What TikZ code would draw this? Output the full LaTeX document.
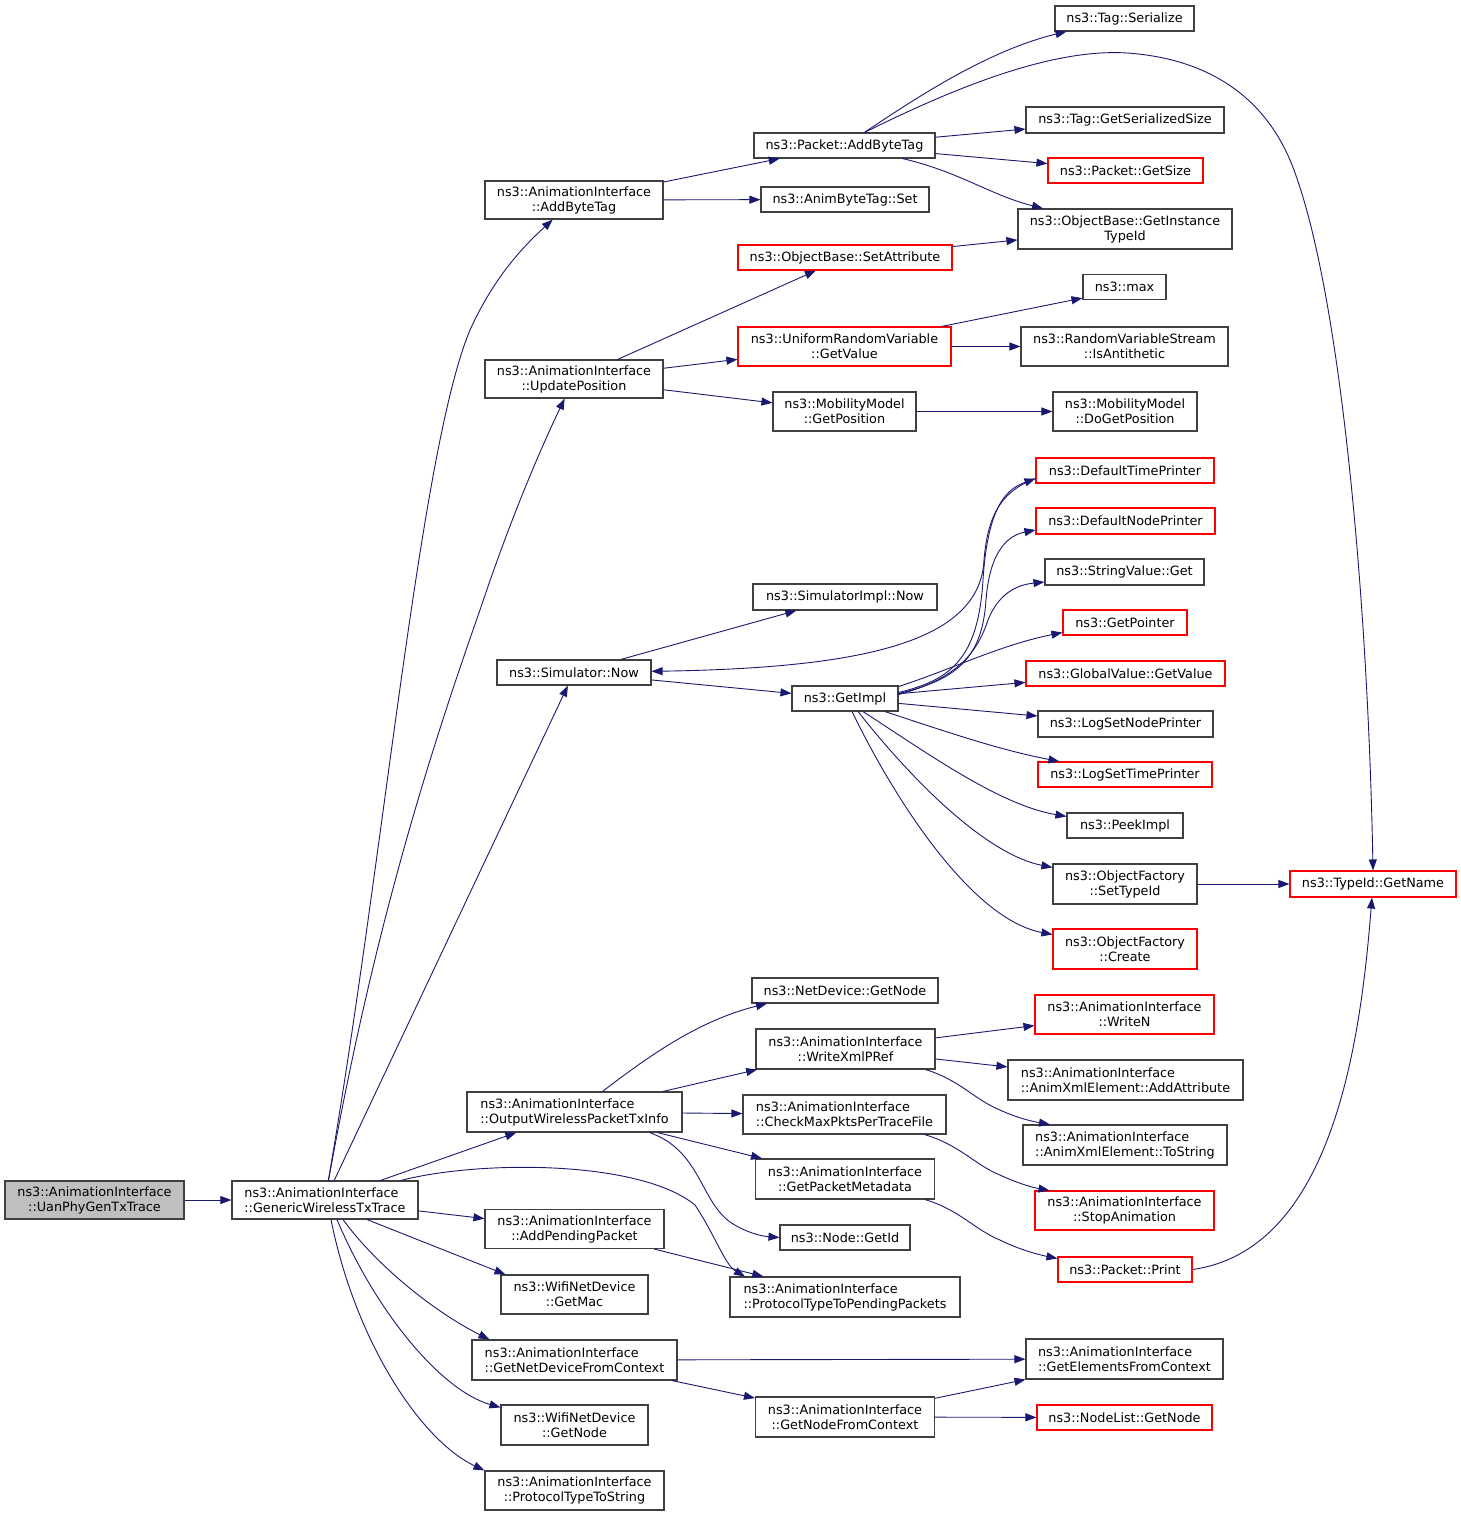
\documentclass[tikz,border=0pt]{standalone}
\usepackage{fontspec}
\setmainfont{DejaVu Sans}
\usetikzlibrary{arrows.meta}
\definecolor{edgec}{HTML}{191970}
\definecolor{bordc}{HTML}{404040}
\definecolor{rootc}{HTML}{BFBFBF}
\begin{document}
\begin{tikzpicture}[x=1pt,y=-1pt,
  box/.style={draw=bordc, line width=1.1pt, rectangle, inner sep=0pt, align=center, font=\fontsize{12.8}{15}\selectfont},
  rbox/.style={box, draw=red},
  e/.style={draw=edgec, line width=0.9pt, -{Triangle[length=11pt,width=8pt]}}]
\useasboundingbox (0,0) rectangle (1461,1516);
% column 1-2
\node[box,fill=rootc,minimum width=179pt,minimum height=38pt] (uan) at (94.5,1200) {ns3::AnimationInterface\\::UanPhyGenTxTrace};
\node[box,align=left,minimum width=186pt,minimum height=38pt] (gen) at (325,1200) {ns3::AnimationInterface\\::GenericWirelessTxTrace};
\node[box,minimum width=178pt,minimum height=38pt] (aibt) at (574,200) {ns3::AnimationInterface\\::AddByteTag};
\node[box,minimum width=178pt,minimum height=38pt] (upd) at (574,379) {ns3::AnimationInterface\\::UpdatePosition};
\node[box,minimum width=154pt,minimum height=25pt] (snow) at (574,672.5) {ns3::Simulator::Now};
\node[box,align=left,minimum width=215pt,minimum height=40pt] (outw) at (574.5,1112) {ns3::AnimationInterface\\::OutputWirelessPacketTxInfo};
\node[box,minimum width=179pt,minimum height=39pt] (addp) at (574.5,1229) {ns3::AnimationInterface\\::AddPendingPacket};
\node[box,minimum width=147pt,minimum height=39pt] (gmac) at (574.5,1294.5) {ns3::WifiNetDevice\\::GetMac};
\node[box,align=left,minimum width=205pt,minimum height=40pt] (gndc) at (574.5,1360) {ns3::AnimationInterface\\::GetNetDeviceFromContext};
\node[box,minimum width=147pt,minimum height=40pt] (wgn) at (574.5,1425) {ns3::WifiNetDevice\\::GetNode};
\node[box,minimum width=179pt,minimum height=39pt] (ptts) at (574.5,1490.5) {ns3::AnimationInterface\\::ProtocolTypeToString};
% column 3
\node[box,minimum width=181pt,minimum height=25pt] (pabt) at (844.5,145.5) {ns3::Packet::AddByteTag};
\node[box,minimum width=168pt,minimum height=25pt] (abts) at (845,199.5) {ns3::AnimByteTag::Set};
\node[rbox,minimum width=214pt,minimum height=25pt] (seta) at (845,257.5) {ns3::ObjectBase::SetAttribute};
\node[rbox,minimum width=213pt,minimum height=39pt] (urv) at (844.5,346.5) {ns3::UniformRandomVariable\\::GetValue};
\node[box,minimum width=143pt,minimum height=39pt] (gpos) at (844.5,411.5) {ns3::MobilityModel\\::GetPosition};
\node[box,minimum width=184pt,minimum height=26pt] (simn) at (845,597) {ns3::SimulatorImpl::Now};
\node[box,minimum width=106pt,minimum height=25pt] (gimp) at (845,698.5) {ns3::GetImpl};
\node[box,minimum width=186pt,minimum height=25pt] (ndgn) at (845,990.5) {ns3::NetDevice::GetNode};
\node[box,minimum width=179pt,minimum height=40pt] (wxml) at (845.5,1049) {ns3::AnimationInterface\\::WriteXmlPRef};
\node[box,align=left,minimum width=203pt,minimum height=39pt] (cmax) at (844.5,1114.5) {ns3::AnimationInterface\\::CheckMaxPktsPerTraceFile};
\node[box,minimum width=179pt,minimum height=40pt] (gpm) at (845,1179) {ns3::AnimationInterface\\::GetPacketMetadata};
\node[box,minimum width=130pt,minimum height=25pt] (ngid) at (845,1237.5) {ns3::Node::GetId};
\node[box,align=left,minimum width=230pt,minimum height=40pt] (ptpp) at (845,1297) {ns3::AnimationInterface\\::ProtocolTypeToPendingPackets};
\node[box,minimum width=179pt,minimum height=40pt] (gnfc) at (845,1417) {ns3::AnimationInterface\\::GetNodeFromContext};
% column 4
\node[box,minimum width=139pt,minimum height=25pt] (tser) at (1124.5,18.5) {ns3::Tag::Serialize};
\node[box,minimum width=198pt,minimum height=26pt] (tgss) at (1125,120) {ns3::Tag::GetSerializedSize};
\node[rbox,minimum width=155pt,minimum height=25pt] (pgs) at (1125.5,170.5) {ns3::Packet::GetSize};
\node[box,minimum width=214pt,minimum height=40pt] (gitid) at (1125,229) {ns3::ObjectBase::GetInstance\\TypeId};
\node[box,minimum width=83pt,minimum height=25pt] (nmax) at (1124.5,287) {ns3::max};
\node[box,minimum width=207pt,minimum height=39pt] (rvsa) at (1124.5,346.5) {ns3::RandomVariableStream\\::IsAntithetic};
\node[box,minimum width=144pt,minimum height=39pt] (dgpos) at (1125,411.5) {ns3::MobilityModel\\::DoGetPosition};
\node[rbox,minimum width=178pt,minimum height=25pt] (dtp) at (1125,470.5) {ns3::DefaultTimePrinter};
\node[rbox,minimum width=179pt,minimum height=26pt] (dnp) at (1125.5,521) {ns3::DefaultNodePrinter};
\node[box,minimum width=159pt,minimum height=26pt] (svg) at (1124.5,572) {ns3::StringValue::Get};
\node[rbox,minimum width=124pt,minimum height=25pt] (gptr) at (1125,622.5) {ns3::GetPointer};
\node[rbox,minimum width=199pt,minimum height=25pt] (gvgv) at (1125.5,673.5) {ns3::GlobalValue::GetValue};
\node[box,minimum width=175pt,minimum height=26pt] (lsnp) at (1125.5,724) {ns3::LogSetNodePrinter};
\node[rbox,minimum width=174pt,minimum height=25pt] (lstp) at (1125,774.5) {ns3::LogSetTimePrinter};
\node[box,minimum width=116pt,minimum height=25pt] (peek) at (1125,825.5) {ns3::PeekImpl};
\node[box,minimum width=144pt,minimum height=40pt] (oft) at (1125,884) {ns3::ObjectFactory\\::SetTypeId};
\node[rbox,minimum width=144pt,minimum height=40pt] (ofc) at (1125,949) {ns3::ObjectFactory\\::Create};
\node[rbox,minimum width=179pt,minimum height=39pt] (wrn) at (1124.5,1014.5) {ns3::AnimationInterface\\::WriteN};
\node[box,align=left,minimum width=235pt,minimum height=40pt] (addat) at (1125.5,1080) {ns3::AnimationInterface\\::AnimXmlElement::AddAttribute};
\node[box,align=left,minimum width=204pt,minimum height=40pt] (tostr) at (1125,1145) {ns3::AnimationInterface\\::AnimXmlElement::ToString};
\node[rbox,minimum width=179pt,minimum height=39pt] (stopa) at (1124.5,1210.5) {ns3::AnimationInterface\\::StopAnimation};
\node[rbox,minimum width=134pt,minimum height=25pt] (pprt) at (1125,1269.5) {ns3::Packet::Print};
\node[box,align=left,minimum width=197pt,minimum height=40pt] (gefc) at (1124.5,1359) {ns3::AnimationInterface\\::GetElementsFromContext};
\node[rbox,minimum width=175pt,minimum height=25pt] (nlgn) at (1124.5,1417.5) {ns3::NodeList::GetNode};
% column 5
\node[rbox,minimum width=166pt,minimum height=26pt] (tgn) at (1373,884) {ns3::TypeId::GetName};

% edges from root / GenericWirelessTxTrace
\draw[e] (uan) -- (gen);
\draw[e] (gen) .. controls (385,850) and (420,450) .. (470,330) .. controls (495,275) and (525,245) .. (aibt);
\draw[e] (gen) .. controls (370,950) and (420,780) .. (480,610) .. controls (510,520) and (540,450) .. (upd);
\draw[e] (gen) -- (snow);
\draw[e] (gen) -- (outw);
\draw[e] (gen) .. controls (480,1160) and (640,1160) .. (695,1205) .. controls (715,1235) and (725,1265) .. ([xshift=-100pt]ptpp.north);
\draw[e] (gen) -- (addp);
\draw[e] ([xshift=42pt]gen.south) -- ([xshift=5pt]gmac.north west);
\draw[e] ([xshift=18pt]gen.south) .. controls (380,1270) and (440,1315) .. ([xshift=18pt]gndc.north west);
\draw[e] ([xshift=12pt]gen.south) .. controls (375,1310) and (440,1390) .. ([yshift=-3pt]wgn.north west);
\draw[e] ([xshift=6pt]gen.south) .. controls (355,1340) and (420,1440) .. (ptts.north west);
% AddByteTag / UpdatePosition / Simulator::Now
\draw[e] (aibt) -- (pabt);
\draw[e] (aibt) -- (abts);
\draw[e] (upd) -- (seta);
\draw[e] (upd) -- (urv);
\draw[e] (upd) -- (gpos);
\draw[e] (snow) -- (simn);
\draw[e] (snow) -- (gimp);
\draw[e] ([yshift=-8pt]dtp.west) .. controls (1005,490) and (988,510) .. (984,560) .. controls (980,640) and (870,668) .. (snow);
% Packet::AddByteTag
\draw[e] ([xshift=20pt]pabt.north) .. controls (920,95) and (990,50) .. ([xshift=-58pt]tser.south);
\draw[e] ([xshift=20pt]pabt.north) .. controls (950,90) and (1050,48) .. (1127,53) .. controls (1200,58) and (1260,90) .. (1290,160) .. controls (1340,280) and (1368,600) .. (tgn.north);
\draw[e] (pabt) -- (tgss);
\draw[e] (pabt) -- (pgs);
\draw[e] ([xshift=58pt]pabt.south) .. controls (960,172) and (990,195) .. ([xshift=-82pt]gitid.north);
\draw[e] (seta) -- (gitid);
\draw[e] ([xshift=97pt]urv.north) -- ([yshift=2pt]nmax.south west);
\draw[e] (urv) -- (rvsa);
\draw[e] (gpos) -- (dgpos);
% GetImpl
\draw[e] ([yshift=6pt]gimp.east) .. controls (950,680) and (978,660) .. (983,580) .. controls (988,500) and (1010,488) .. ([yshift=-8pt]dtp.west);
\draw[e] ([yshift=5pt]gimp.east) .. controls (955,680) and (982,660) .. (986,600) .. controls (990,548) and (1010,535) .. ([yshift=-9pt]dnp.west);
\draw[e] ([yshift=4pt]gimp.east) .. controls (960,678) and (978,650) .. (988,620) .. controls (998,595) and (1015,585) .. ([yshift=-10pt]svg.west);
\draw[e] ([yshift=12pt]gimp.east) .. controls (950,670) and (1000,645) .. ([yshift=-10pt]gptr.west);
\draw[e] (gimp) -- (gvgv);
\draw[e] (gimp) -- (lsnp);
\draw[e] ([xshift=40pt]gimp.south) .. controls (950,733) and (1000,750) .. ([xshift=22pt]lstp.north west);
\draw[e] ([xshift=18pt]gimp.south) .. controls (930,755) and (1000,805) .. ([yshift=-4pt]peek.north west);
\draw[e] ([xshift=13pt]gimp.south) .. controls (920,790) and (990,855) .. ([yshift=-4pt]oft.north west);
\draw[e] ([xshift=7pt]gimp.south) .. controls (900,810) and (975,920) .. ([yshift=-6pt]ofc.north west);
\draw[e] (oft) -- (tgn);
\draw[e] (pprt.east) .. controls (1330,1250) and (1360,1050) .. (tgn);
% OutputWirelessPacketTxInfo
\draw[e] ([xshift=28pt]outw.north) .. controls (650,1055) and (700,1020) .. ([xshift=-78pt]ndgn.south);
\draw[e] (outw) -- (wxml);
\draw[e] (outw) -- (cmax);
\draw[e] (outw) -- (gpm);
\draw[e] ([xshift=75pt]outw.south) .. controls (700,1150) and (700,1200) .. (730,1222) .. controls (745,1232) and (760,1236) .. (ngid.west);
\draw[e] (addp) -- (ptpp);
\draw[e] (wxml) -- (wrn);
\draw[e] (wxml) -- (addat);
\draw[e] ([xshift=80pt]wxml.south) .. controls (960,1080) and (975,1100) .. (1000,1110) .. controls (1015,1117) and (1030,1121) .. ([xshift=-75pt]tostr.north);
\draw[e] ([xshift=80pt]cmax.south) .. controls (960,1145) and (975,1165) .. (1000,1175) .. controls (1015,1182) and (1030,1187) .. ([xshift=-75pt]stopa.north);
\draw[e] ([xshift=80pt]gpm.south) .. controls (960,1210) and (975,1230) .. (1000,1240) .. controls (1020,1250) and (1040,1255) .. ([yshift=-2pt]pprt.north west);
% context
\draw[e] (gndc) -- (gefc);
\draw[e] (gndc) -- (gnfc);
\draw[e] (gnfc) -- (gefc);
\draw[e] (gnfc) -- (nlgn);
\end{tikzpicture}
\end{document}
